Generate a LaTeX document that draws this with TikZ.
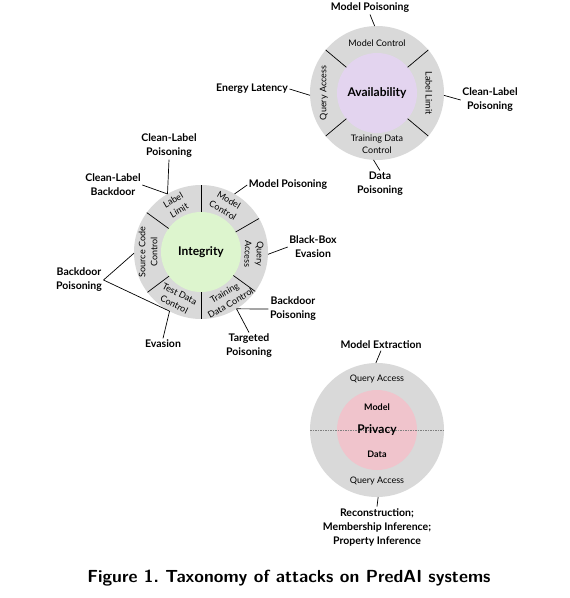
\documentclass[tikz,border=0pt]{standalone}
\usepackage{fontspec}
\setmainfont{Lato}
\definecolor{ringgray}{HTML}{D9D9D9}
\definecolor{avfill}{HTML}{E3D4EF}
\definecolor{infill}{HTML}{DDF5CE}
\definecolor{prfill}{HTML}{F0C4CC}
\tikzset{
    ring/.style={circle, fill=ringgray, minimum size=134pt, inner sep=0pt, outer sep=0pt},
    core/.style={circle, minimum size=80pt, inner sep=0pt, outer sep=0pt, font=\bfseries\fontsize{12}{14}\selectfont},
    seg/.style={align=center, inner sep=0pt, font=\fontsize{9}{12}\selectfont},
    atk/.style={align=center, inner sep=1.5pt, font=\bfseries\fontsize{10.5}{14}\selectfont},
    cut/.style={line width=0.7pt},
    wire/.style={line width=0.7pt},
}
\begin{document}
\begin{tikzpicture}[x=1pt, y=1pt]
    \useasboundingbox (0,0) rectangle (570,-598);
    \def\ax{377};
    \def\ay{-93};
    \def\ix{201};
    \def\iy{-252};
    \def\px{377};
    \def\py{-430};
    \def\rm{53};
    % Availability
    \node[ring] at (\ax, \ay) (avOut) {};
    \node[core, fill=avfill] at (\ax, \ay) (avIn) {Availability};
    \draw[cut] (avIn.40) -- (avOut.40);
    \draw[cut] (avIn.140) -- (avOut.140);
    \draw[cut] (avIn.220) -- (avOut.220);
    \draw[cut] (avIn.320) -- (avOut.320);
    \node[seg] at ([shift={(90:50)}]\ax, \ay) (avMC) {Model Control};
    \node[seg, rotate=-90] at ([shift={(0:52)}]\ax, \ay) (avLL) {Label Limit};
    \node[seg, rotate=90] at ([shift={(180:53)}]\ax, \ay) (avQA) {Query Access};
    \node[seg] at ([shift={(270:51)}]\ax, \ay) (avTD) {Training Data\\Control};
    \node[atk] at (370, -8) (avMP) {Model Poisoning};
    \node[atk] at (252, -89) (avEL) {Energy Latency};
    \node[atk] at (490, -100) (avCL) {Clean-Label\\Poisoning};
    \node[atk] at (380, -184) (avDP) {Data\\Poisoning};
    \draw[wire] (avMP.south) -- (avOut.92);
    \draw[wire] (avEL.east) -- (avOut.182);
    \draw[wire] (avCL.west) -- (avOut.-2);
    \draw[wire] (avDP.north) -- (avOut.267);
    % Integrity
    \node[ring] at (\ix, \iy) (inOut) {};
    \node[core, fill=infill] at (\ix, \iy) (inIn) {Integrity};
    \draw[cut] (inIn.90) -- (inOut.90);
    \draw[cut] (inIn.30) -- (inOut.30);
    \draw[cut] (inIn.-36) -- (inOut.-36);
    \draw[cut] (inIn.270) -- (inOut.270);
    \draw[cut] (inIn.217) -- (inOut.217);
    \draw[cut] (inIn.144) -- (inOut.144);
    \node[seg, rotate=30] at ([shift={(118:\rm)}]\ix, \iy) (inLL) {Label\\Limit};
    \node[seg, rotate=-30] at ([shift={(62:\rm)}]\ix, \iy) (inMC) {Model\\Control};
    \node[seg, rotate=-92] at ([shift={(-2:\rm)}]\ix, \iy) (inQA) {Query\\Access};
    \node[seg, rotate=30] at ([shift={(-60:\rm)}]\ix, \iy) (inTD) {Training\\Data Control};
    \node[seg, rotate=-27] at ([shift={(243:\rm)}]\ix, \iy) (inTE) {Test Data\\Control};
    \node[seg, rotate=90] at ([shift={(180:\rm)}]\ix, \iy) (inSC) {Source Code\\Control};
    \node[atk] at (288, -185) (inMP) {Model Poisoning};
    \node[atk] at (169, -146) (inCLP) {Clean-Label\\Poisoning};
    \node[atk] at (113, -185) (inCLB) {Clean-Label\\Backdoor};
    \node[atk] at (313, -247) (inBB) {Black-Box\\Evasion};
    \node[atk] at (293, -309) (inBP) {Backdoor\\Poisoning};
    \node[atk] at (249, -346) (inTP) {Targeted\\Poisoning};
    \node[atk] at (79, -280) (inBL) {Backdoor\\Poisoning};
    \node[atk] at (163, -344) (inEV) {Evasion};
    \draw[wire] (inMP.west) -- (inOut.60);
    \draw[wire] (inCLP.south) -- (inOut.120);
    \draw[wire] (inCLB.east) -- (inOut.120);
    \draw[wire] (inBB.west) -- (inOut.-2);
    \draw[wire] (inBP.west) -- (inOut.-58);
    \draw[wire] (inTP.north) -- (inOut.-58);
    \draw[wire] (inBL.east) -- (inOut.181);
    \draw[wire] (inBL.east) -- (inOut.242);
    \draw[wire] (inEV.north) -- (inOut.242);
    % Privacy
    \node[ring] at (\px, \py) (prOut) {};
    \node[core, fill=prfill] at (\px, \py) (prIn) {};
    \draw[gray, line width=0.4pt, dash pattern=on 1.5pt off 1pt] (prOut.west) -- (prOut.east);
    \node[core] at (\px, \py) (prTx) {Privacy};
    \node[seg, font=\bfseries\fontsize{9}{11}\selectfont] at (\px, -407) (prMo) {Model};
    \node[seg, font=\bfseries\fontsize{9}{11}\selectfont] at (\px, -454) (prDa) {Data};
    \node[seg] at (\px, -379) (prQT) {Query Access};
    \node[seg] at (\px, -481) (prQB) {Query Access};
    \node[atk] at (381, -345) (prME) {Model Extraction};
    \node[atk] at (377, -527) (prRe) {Reconstruction;\\Membership Inference;\\Property Inference};
    \draw[wire] (prME.south) -- (prOut.91);
    \draw[wire] (prRe.north) -- (prOut.271);
    \node[font=\sffamily\bfseries\fontsize{17.5}{20}\selectfont] at (289, -578) (cap) {Figure 1.\ Taxonomy of attacks on PredAI systems};
\end{tikzpicture}
\end{document}
